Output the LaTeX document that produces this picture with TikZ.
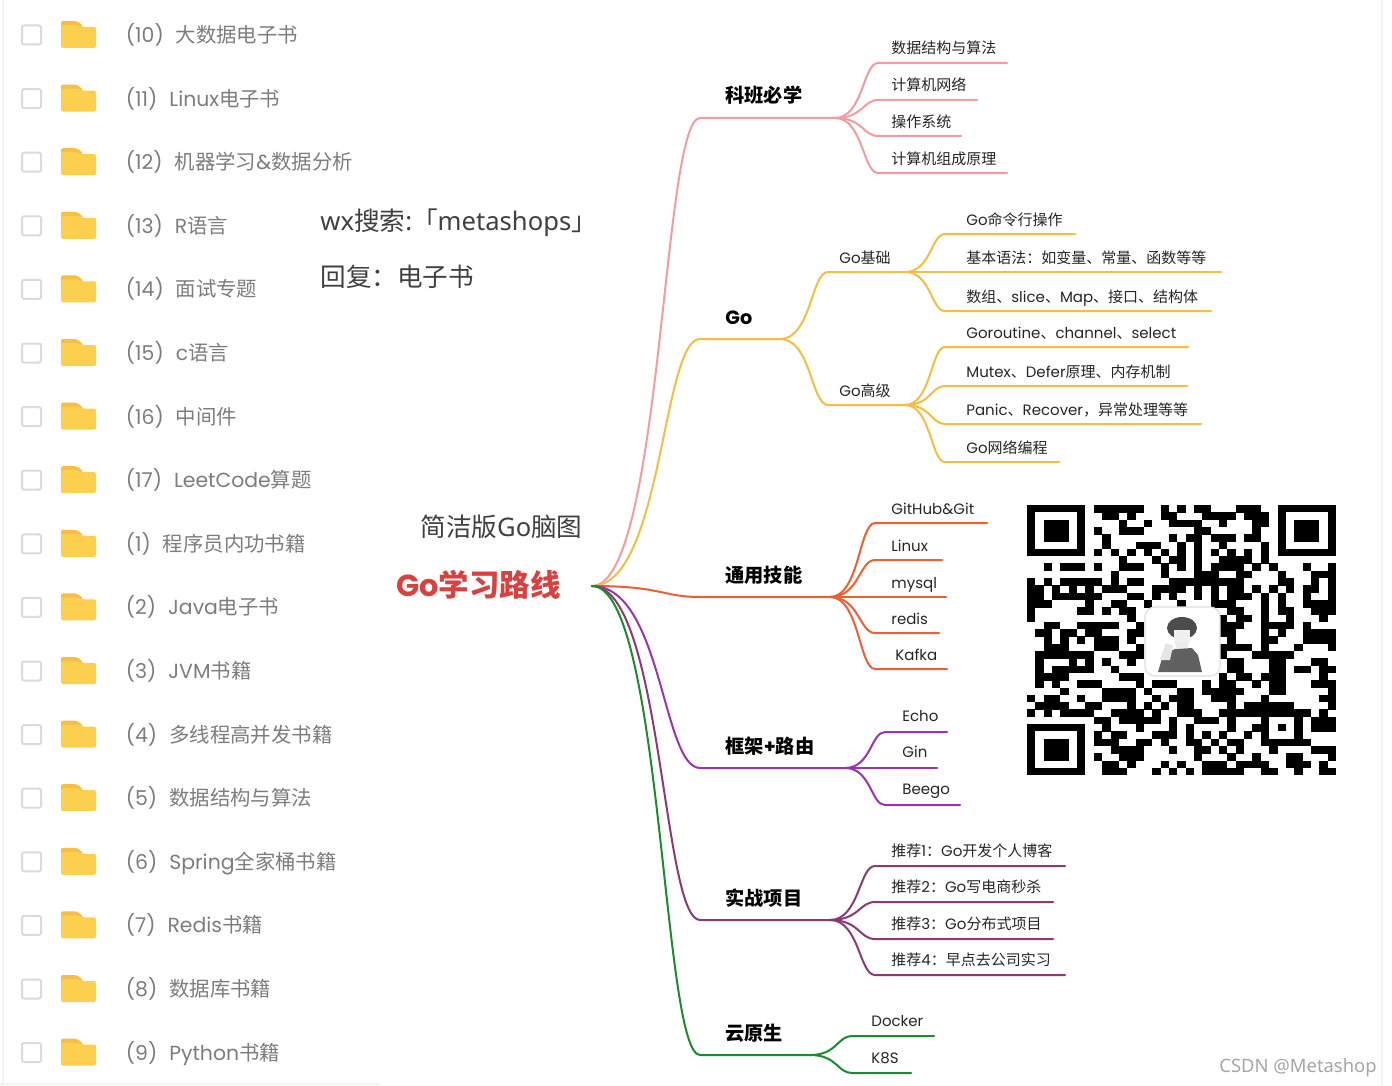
\documentclass[tikz,border=0pt]{standalone}
\usepackage{fontspec}
\setmainfont{Poppins}
\newfontfamily\cjk{Noto Sans CJK SC}
\newfontfamily\plainsans{Noto Sans}
\newcommand{\zh}[1]{{\cjk #1}}
\usetikzlibrary{calc}
\definecolor{kbpink}{HTML}{F29C9F}
\definecolor{goyellow}{HTML}{F5BD42}
\definecolor{skillred}{HTML}{EE6034}
\definecolor{webpurple}{HTML}{9B35AD}
\definecolor{projplum}{HTML}{8D3A72}
\definecolor{cloudgreen}{HTML}{1E8A2F}
\definecolor{listgray}{HTML}{7D7D7D}
\definecolor{folderbody}{HTML}{FDCF4E}
\definecolor{foldertab}{HTML}{F8BD45}
\tikzset{
  limb/.style={to path={let \p1=(\tikztostart),\p2=(\tikztotarget) in
    .. controls ({\x1+0.65*(\x2-\x1)},\y1) and ({\x1+0.65*(\x2-\x1)},\y2) .. (\tikztotarget)}},
  branch/.style={line width=1pt,line cap=round},
  mainlabel/.style={anchor=base west,inner sep=0pt,font=\fontsize{9.6}{11}\selectfont\bfseries},
  sublabel/.style={anchor=base west,inner sep=0pt,text=black!85,font=\fontsize{7.5}{9}\selectfont},
  itemtext/.style={anchor=base west,inner sep=0pt,text=listgray,font=\fontsize{10.2}{12}\selectfont},
  checkbox/.style={draw=black!14,line width=1pt,rounded corners=1pt,minimum size=9.5pt,inner sep=0pt,fill=white},
  bigtext/.style={anchor=base west,inner sep=0pt,text=black!75,font=\fontsize{12.8}{15}\selectfont\cjk},
}
\begin{document}
\begin{tikzpicture}[x=0.5pt,y=-0.5pt]
  \useasboundingbox (0,0) rectangle (1392,1086);
  \fill[white] (0,0) rectangle (1392,1086);
  % faint page edges
  \draw[black!5,line width=0.6pt] (3,0) -- (3,1086) (0,1084) -- (380,1084) (1382,0) -- (1382,1086);
  % file list
  \foreach \i/\n/\txt in {0/10/\zh{大数据电子书},1/11/Linux\zh{电子书},2/12/\zh{机器学习}\&\zh{数据分析},3/13/R\zh{语言},4/14/\zh{面试专题},5/15/c\zh{语言},6/16/\zh{中间件},7/17/LeetCode\zh{算题},8/1/\zh{程序员内功书籍},9/2/Java\zh{电子书},10/3/JVM\zh{书籍},11/4/\zh{多线程高并发书籍},12/5/\zh{数据结构与算法},13/6/Spring\zh{全家桶书籍},14/7/Redis\zh{书籍},15/8/\zh{数据库书籍},16/9/Python\zh{书籍}}{
    \pgfmathsetmacro{\rowy}{35+63.6*\i}
    \node[checkbox] (box\n) at (31.5,\rowy) {};
    \fill[foldertab,rounded corners=1pt] (61,\rowy-14) -- (77,\rowy-14) -- (83,\rowy-9) -- (83,\rowy) -- (61,\rowy) -- cycle;
    \fill[folderbody,rounded corners=1pt] (61,\rowy-10) -- (78,\rowy-10) -- (82,\rowy-8) -- (96,\rowy-8) -- (96,\rowy+13) -- (61,\rowy+13) -- cycle;
    \node[itemtext] (item\n) at (125.5,\rowy+7.5) {(\n)\hspace{6pt}\txt};
  }
  % free texts
  \node[bigtext] (wxline) at (320,230) {{\plainsans wx}搜索{\plainsans :}「{\plainsans metashops}」};
  \node[bigtext] (replyline) at (320,286) {回复：电子书};
  \node[bigtext] (mapname) at (420,536) {简洁版{\plainsans Go}脑图};
  \node[anchor=base west,inner sep=0pt,text={rgb,255:red,217;green,64;blue,64},font=\fontsize{15.2}{17}\selectfont\bfseries] (rootlabel) at (396,596) {Go\zh{学习路线}};
  \node[anchor=base east,inner sep=0pt,text=black!35,font=\fontsize{9.2}{11}\selectfont\plainsans] (mark) at (1377,1072) {CSDN @Metashop};
  % main branches
  \coordinate (root) at (592,586);
  \foreach \name/\col/\ly/\hub/\txt in {kb/kbpink/118/835/\zh{科班必学},go/goyellow/339/780/Go,skill/skillred/597/830/\zh{通用技能},web/webpurple/768/845/\zh{框架}+\zh{路由},proj/projplum/920/830/\zh{实战项目},cloud/cloudgreen/1055/810/\zh{云原生}}{
    \coordinate (\name s) at (700,\ly);
    \coordinate (\name) at (\hub,\ly);
    \draw[branch,\col] (root) to[limb] (\name s) -- (\name);
    \node[mainlabel] (\name label) at (725,\ly-15) {\txt};
  }
  % Go sub branches
  \coordinate (gobase) at (905,272);
  \coordinate (gobases) at (828,272);
  \coordinate (goadv) at (905,405);
  \coordinate (goadvs) at (828,405);
  \draw[branch,goyellow] (go) to[limb] (gobases) -- (gobase);
  \draw[branch,goyellow] (go) to[limb] (goadvs) -- (goadv);
  \node[sublabel] (gobaselabel) at (839,263) {Go\zh{基础}};
  \node[sublabel] (goadvlabel) at (839,396) {Go\zh{高级}};
  % leaves
  \foreach \name/\ly/\xe/\txt in {a/63/1007/\zh{数据结构与算法},b/100/977/\zh{计算机网络},c/136/961/\zh{操作系统},d/173/1007/\zh{计算机组成原理}}{
    \coordinate (\name s) at (878,\ly); \coordinate (\name e) at (\xe,\ly);
    \draw[branch,kbpink] (kb) to[limb] (\name s) -- (\name e);
    \node[sublabel] (\name) at (891,\ly-9) {\txt};
  }
  \foreach \name/\ly/\xe/\txt in {e/234/1075/Go\zh{命令行操作},f/272/1221/{\zh{基本语法：如变量、常量、函数等等}},g/311/1211/{\zh{数组、}slice\zh{、}Map\zh{、接口、结构体}}}{
    \coordinate (\name s) at (945,\ly); \coordinate (\name e) at (\xe,\ly);
    \draw[branch,goyellow] (gobase) to[limb] (\name s) -- (\name e);
    \node[sublabel] (\name) at (966,\ly-9) {\txt};
  }
  \foreach \name/\ly/\xe/\txt in {h/347/1188/{Goroutine\zh{、}channel\zh{、}select},i/386/1187/{Mutex\zh{、}Defer\zh{原理、内存机制}},j/424/1201/{Panic\zh{、}Recover\zh{，异常处理等等}},k/462/1059/Go\zh{网络编程}}{
    \coordinate (\name s) at (945,\ly); \coordinate (\name e) at (\xe,\ly);
    \draw[branch,goyellow] (goadv) to[limb] (\name s) -- (\name e);
    \node[sublabel] (\name) at (966,\ly-9) {\txt};
  }
  \foreach \name/\ly/\xe/\tx/\txt in {l/523/987/891/GitHub\&Git,m/560/942/891/Linux,n/597/946/891/mysql,o/633/939/891/redis,p/669/947/895/Kafka}{
    \coordinate (\name s) at (875,\ly); \coordinate (\name e) at (\xe,\ly);
    \draw[branch,skillred] (skill) to[limb] (\name s) -- (\name e);
    \node[sublabel] (\name) at (\tx,\ly-9) {\txt};
  }
  \foreach \name/\ly/\xe/\txt in {q/732/947/Echo,r/768/937/Gin,s/805/960/Beego}{
    \coordinate (\name s) at (885,\ly); \coordinate (\name e) at (\xe,\ly);
    \draw[branch,webpurple] (web) to[limb] (\name s) -- (\name e);
    \node[sublabel] (\name) at (902,\ly-11) {\txt};
  }
  \foreach \name/\ly/\xe/\txt in {t/866/1065/{\zh{推荐}1\zh{：}Go\zh{开发个人博客}},u/902/1053/{\zh{推荐}2\zh{：}Go\zh{写电商秒杀}},v/939/1053/{\zh{推荐}3\zh{：}Go\zh{分布式项目}},w/975/1065/{\zh{推荐}4\zh{：早点去公司实习}}}{
    \coordinate (\name s) at (875,\ly); \coordinate (\name e) at (\xe,\ly);
    \draw[branch,projplum] (proj) to[limb] (\name s) -- (\name e);
    \node[sublabel] (\name) at (891,\ly-10) {\txt};
  }
  \foreach \name/\ly/\xe/\txt in {x/1036/934/Docker,y/1073/911/K8S}{
    \coordinate (\name s) at (852,\ly); \coordinate (\name e) at (\xe,\ly);
    \draw[branch,cloudgreen] (cloud) to[limb] (\name s) -- (\name e);
    \node[sublabel] (\name) at (871,\ly-10) {\txt};
  }
  % qr code
  \begin{scope}[shift={(1027,505)},x=4.175pt,y=-3.65pt]
    \foreach \r/\runs in {0/{8/13,16/16,18/18,20/21,25/27},1/{9/10,12/12,16/17,21/24,26/28},2/{11/11,14/14,17/20,23/23,27/28},3/{8/8,11/13,20/21,27/27},4/{9/9,17/17,19/20,22/24,26/27},5/{9/9,13/15,18/18,20/20,23/23,28/28},6/{8/8,10/10,12/12,14/14,16/16,18/18,20/20,22/22,24/24,26/26,28/28},7/{11/11,15/15,17/18,20/20,23/26,28/28},8/{2/2,4/6,8/8,11/13,16/16,18/18,20/20,22/25,27/27,29/29,33/33,36/36},9/{10/10,16/16,20/22,25/26,30/30,34/36},10/{0/0,2/2,4/8,10/10,12/13,17/25,30/31,34/34,36/36},11/{0/1,3/3,5/5,7/7,9/11,15/18,20/20,22/22,24/25,27/27,29/29,31/31,33/34,36/36},12/{0/1,3/8,12/13,15/15,17/17,20/20,22/22,24/26,28/28,30/30,33/33,36/36},13/{0/2,7/7,10/11,14/14,18/18,22/24,28/28,30/30,33/36},14/{0/0,6/7,9/9,11/12,24/25,28/28,30/31,34/36},15/{0/0,12/12,23/23,25/26,28/28,31/31,35/35},16/{2/3,6/10,13/13,23/25,28/31,33/33},17/{1/2,4/5,7/8,12/13,23/24,28/28,30/30,33/36},18/{2/2,4/4,6/6,8/10,12/12,24/24,28/29,33/36},19/{2/4,8/10,13/13,23/26,28/28,32/32,36/36},20/{1/7,11/13,23/23,27/31},21/{1/1,5/5,7/7,9/9,12/12,24/25,29/30,34/35},22/{1/1,3/7,10/10,24/25,29/30,32/33,35/36},23/{1/4,11/13,23/23,25/26,28/30,35/35},24/{1/1,3/3,6/8,13/13,15/17,21/21,23/24,27/27,29/30,34/36},25/{4/4,9/12,14/14,18/19,21/25,29/30,36/36},26/{0/0,2/3,6/6,9/12,15/15,17/19,22/24,28/28,35/36},27/{1/4,7/8,12/12,14/14,16/16,18/19,24/24,26/31,36/36},28/{0/0,2/2,4/7,10/13,15/15,18/20,23/27,33/33,35/35},29/{8/9,11/15,17/17,20/22,24/24,34/36},30/{9/9,13/13,17/17,19/19,24/24,27/27,34/36},31/{8/8,10/11,15/17,19/19,21/21,23/23,26/26},32/{8/10,13/14,16/16,19/20,22/22,24/25,33/33},33/{10/13,17/17,20/21,23/23,25/25,29/29,34/36},34/{8/8,11/13,20/20,24/24,27/27,31/32,36/36},35/{9/10,12/12,16/16,18/18,21/23,25/28,31/33,35/35},36/{9/11,15/15,17/17,19/19,21/25,28/29,32/32,35/36}}{
      \foreach \a/\b in \runs { \fill[black] (\a,\r) rectangle (\b+1,\r+1.05); }
    }
    % finders
    \foreach \fx/\fy in {0/0,30/0,0/30}{
      \fill[black] (\fx,\fy) rectangle (\fx+7,\fy+7);
      \fill[white] (\fx+1,\fy+1) rectangle (\fx+6,\fy+6);
      \fill[black] (\fx+2,\fy+2) rectangle (\fx+5,\fy+5);
    }
    \fill[black] (28,28) rectangle (33,33);
    \fill[white] (29,29) rectangle (32,32);
    \fill[black] (30,30) rectangle (31,31);
  \end{scope}
  % avatar
  \fill[white,draw=black!12,line width=0.6pt,rounded corners=5pt] (1145,607) rectangle (1220,676);
  \fill[black!62] (1158,672) -- (1163,655) -- (1175,649) -- (1192,648) -- (1198,655) -- (1202,672) -- cycle;
  \fill[black!8] (1172,628) -- (1190,628) -- (1188,648) -- (1176,648) -- cycle;
  \fill[black!70] (1182,628) ellipse (15 and 11);
  \fill[black!6] (1174,630) rectangle (1190,642);
  \fill[black!10] (1160,660) -- (1166,643) -- (1173,646) -- (1170,660) -- cycle;
\end{tikzpicture}
\end{document}
